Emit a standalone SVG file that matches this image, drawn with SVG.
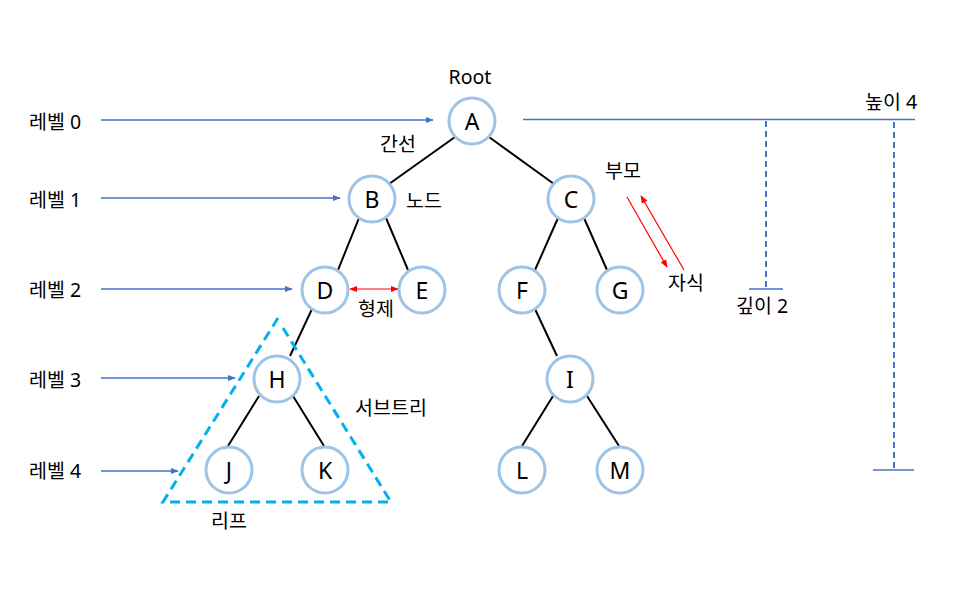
<svg xmlns="http://www.w3.org/2000/svg" width="969" height="605" viewBox="0 0 969 605">
<defs>
<style>
.n circle{fill:#fff;stroke:#9DC3E6;stroke-width:3}
.n text{font-family:"Noto Sans","Noto Sans CJK KR",sans-serif;font-size:23px;fill:#000;text-anchor:middle;dominant-baseline:central}
.t{font-family:"Noto Sans","Noto Sans CJK KR",sans-serif;font-size:19.5px;fill:#000;text-anchor:middle;dominant-baseline:central}
.e{stroke:#000;stroke-width:2;fill:none}
.b{stroke:#4472C4;stroke-width:1.3;fill:none}
.r{stroke:#FF0000;stroke-width:1.2;fill:none}
.d{stroke:#4472C4;stroke-width:2;stroke-dasharray:6 4;fill:none}
.s{stroke:#00B0F0;stroke-width:3;stroke-dasharray:10 6;fill:none}
</style>
<marker id="ab" viewBox="0 0 10 10" refX="9" refY="5" markerWidth="8" markerHeight="8" markerUnits="userSpaceOnUse" orient="auto"><path d="M0,1 L10,5 L0,9 z" fill="#4472C4"/></marker>
<marker id="ar" viewBox="0 0 10 10" refX="9" refY="5" markerWidth="8" markerHeight="8" markerUnits="userSpaceOnUse" orient="auto-start-reverse"><path d="M0,1 L10,5 L0,9 z" fill="#FF0000"/></marker>
</defs>
<rect width="969" height="605" fill="#fff"/>
<g id="connectors">
<line class="e" x1="455" y1="137" x2="389" y2="184"/>
<line class="e" x1="489" y1="137" x2="554" y2="184"/>
<line class="e" x1="359" y1="218" x2="338" y2="270"/>
<line class="e" x1="386" y1="218" x2="408" y2="270"/>
<line class="e" x1="558" y1="218" x2="535" y2="270"/>
<line class="e" x1="584" y1="218" x2="607" y2="270"/>
<line class="e" x1="312" y1="309" x2="290" y2="356"/>
<line class="e" x1="535" y1="309" x2="557" y2="356"/>
<line class="e" x1="259" y1="396" x2="228" y2="446"/>
<line class="e" x1="293" y1="396" x2="324" y2="446"/>
<line class="e" x1="553" y1="396" x2="522" y2="446"/>
<line class="e" x1="587" y1="396" x2="619" y2="446"/>
<line class="b" x1="101" y1="120" x2="433" y2="120" marker-end="url(#ab)"/>
<line class="b" x1="101" y1="198" x2="340" y2="198" marker-end="url(#ab)"/>
<line class="b" x1="101" y1="289" x2="292" y2="289" marker-end="url(#ab)"/>
<line class="b" x1="101" y1="378" x2="235" y2="378" marker-end="url(#ab)"/>
<line class="b" x1="101" y1="471" x2="178" y2="471" marker-end="url(#ab)"/>
<line class="b" x1="523" y1="119.5" x2="915" y2="119.5"/>
<line class="d" x1="766" y1="121" x2="766" y2="288"/>
<line class="b" x1="749" y1="289" x2="783" y2="289"/>
<line class="d" x1="894" y1="122" x2="894" y2="469"/>
<line class="b" x1="873" y1="470" x2="914" y2="470"/>
<line class="r" x1="350" y1="289" x2="398" y2="289" marker-start="url(#ar)" marker-end="url(#ar)"/>
<line class="r" x1="627" y1="197" x2="667" y2="267" marker-end="url(#ar)"/>
<line class="r" x1="684" y1="270" x2="641" y2="196" marker-end="url(#ar)"/>
<polyline class="s" points="278,318 163,502 391,502 283,328"/>
</g>
<g id="A" class="n"><circle cx="472" cy="121" r="23"/><text x="472" y="121">A</text></g>
<g id="B" class="n"><circle cx="372" cy="199" r="23"/><text x="372" y="199">B</text></g>
<g id="C" class="n"><circle cx="571" cy="199" r="23"/><text x="571" y="199">C</text></g>
<g id="D" class="n"><circle cx="325" cy="290" r="23"/><text x="325" y="290">D</text></g>
<g id="E" class="n"><circle cx="422" cy="290" r="23"/><text x="422" y="290">E</text></g>
<g id="F" class="n"><circle cx="522" cy="290" r="23"/><text x="522" y="290">F</text></g>
<g id="G" class="n"><circle cx="620" cy="290" r="23"/><text x="620" y="290">G</text></g>
<g id="H" class="n"><circle cx="277" cy="379" r="23"/><text x="277" y="379">H</text></g>
<g id="I" class="n"><circle cx="570" cy="379" r="23"/><text x="570" y="379">I</text></g>
<g id="J" class="n"><circle cx="229" cy="470" r="23"/><text x="229" y="470">J</text></g>
<g id="K" class="n"><circle cx="325" cy="470" r="23"/><text x="325" y="470">K</text></g>
<g id="L" class="n"><circle cx="522" cy="470" r="23"/><text x="522" y="470">L</text></g>
<g id="M" class="n"><circle cx="620" cy="470" r="23"/><text x="620" y="470">M</text></g>
<g id="labels">
<text class="t" x="55" y="121">레벨 0</text>
<text class="t" x="55" y="199">레벨 1</text>
<text class="t" x="55" y="289">레벨 2</text>
<text class="t" x="55" y="379">레벨 3</text>
<text class="t" x="55" y="470">레벨 4</text>
<text class="t" x="470" y="76">Root</text>
<text class="t" x="398" y="143">간선</text>
<text class="t" x="424" y="200">노드</text>
<text class="t" x="376" y="308">형제</text>
<text class="t" x="623" y="170">부모</text>
<text class="t" x="686" y="282">자식</text>
<text class="t" x="391" y="407">서브트리</text>
<text class="t" x="229" y="520">리프</text>
<text class="t" x="762" y="305">깊이 2</text>
<text class="t" x="891" y="101">높이 4</text>
</g>
</svg>
